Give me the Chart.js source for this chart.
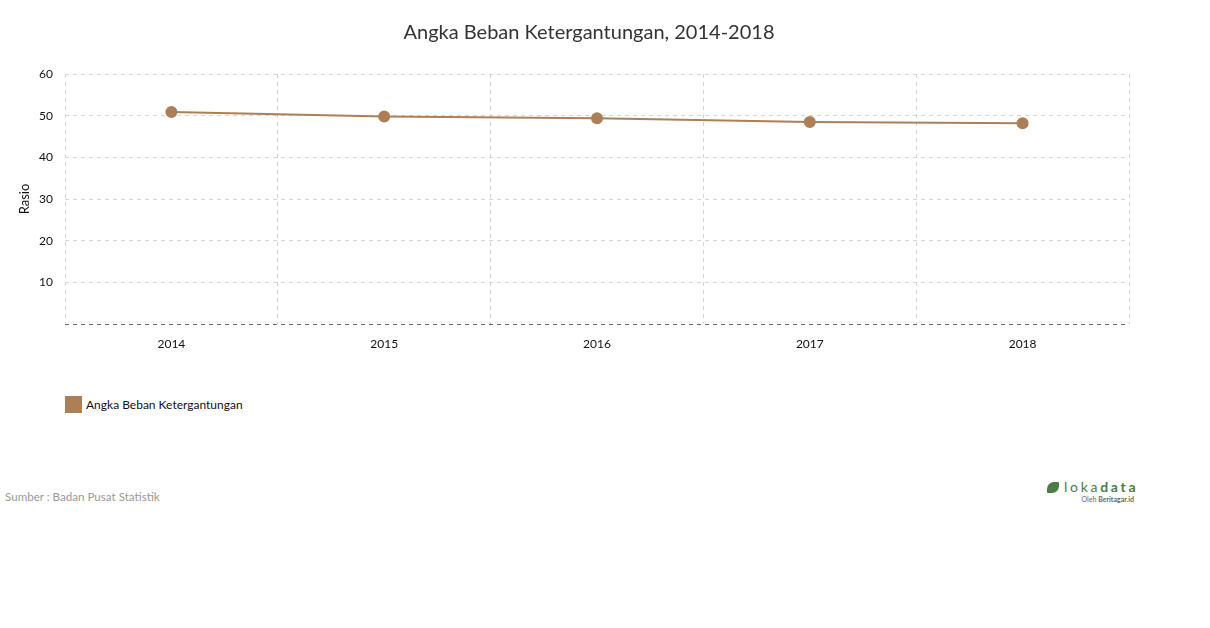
<!DOCTYPE html>
<html>
<head>
<meta charset="utf-8">
<script src="https://cdn.jsdelivr.net/npm/chart.js@4/dist/chart.umd.min.js"></script>
<style>
  body { margin: 0; background: #fff; font-family: Lato, sans-serif; }
  #wrap { position: relative; width: 1210px; height: 628px; }
  #box { position: absolute; left: 0; top: 0; width: 1210px; height: 370px; }
  #legend { position: absolute; left: 65px; top: 396px; font-size: 12px; color: #111; display: flex; align-items: center; }
  #legend span.sw { display: inline-block; width: 17px; height: 17px; margin-right: 4px; }
  #source { position: absolute; left: 5px; top: 490px; font-size: 11.6px; color: #999; }
  #logo { position: absolute; left: 1047px; top: 479px; width: 90px; }
  #logo .name { font-size: 14px; color: #4d7a46; letter-spacing: 2.7px; line-height: 16px; white-space: nowrap; }
  #logo .name b { font-weight: 700; }
  #logo .by { font-size: 7px; color: #666; text-align: right; padding-right: 3px; line-height: 8px; white-space: nowrap; }
  #logo .leaf { display: inline-block; width: 12px; height: 11px; background: #4d7a46; border-radius: 7px 1px 7px 1px; margin-right: 5px; vertical-align: -1px; }
</style>
</head>
<body>
<div id="wrap">
  <div id="box"><canvas id="chart"></canvas></div>
  <div id="legend"></div>
  <div id="source">Sumber : Badan Pusat Statistik</div>
  <div id="logo">
    <div class="name"><span class="leaf"></span>loka<b>data</b></div>
    <div class="by">Oleh <b>Beritagar.id</b></div>
  </div>
</div>
<script>
// data
const years = ['2014', '2015', '2016', '2017', '2018'];
const rasio = [50.9, 49.8, 49.4, 48.5, 48.2];
const seriesName = 'Angka Beban Ketergantungan';
const yTicks = [0, 10, 20, 30, 40, 50, 60];

const brown = '#ad7f56';
const gridGrey = '#d4d4d4';

document.getElementById('legend').innerHTML =
    '<span class="sw" style="background:' + brown + '"></span>' + seriesName;

const ctx = document.getElementById('chart').getContext('2d');

new Chart(ctx, {
    type: 'line',
    data: {
        labels: years,
        datasets: [{
            label: seriesName,
            data: rasio,
            borderColor: brown,
            backgroundColor: brown,
            borderWidth: 2,
            pointRadius: 5,
            pointHoverRadius: 5,
            tension: 0,
            fill: false
        }]
    },
    options: {
        responsive: true,
        maintainAspectRatio: false,
        animation: false,
        layout: { padding: { left: 0, right: 32, top: 0, bottom: 0 } },
        plugins: {
            legend: { display: false },
            tooltip: { enabled: false },
            title: {
                display: true,
                text: 'Angka Beban Ketergantungan, 2014-2018',
                color: '#333',
                font: { family: 'Lato', size: 20, weight: 'normal' },
                padding: { top: 21, bottom: 29 }
            }
        },
        scales: {
            x: {
                offset: true,
                grid: {
                    offset: true,
                    color: gridGrey,
                    drawTicks: false
                },
                border: { display: false, dash: [4, 4] },
                ticks: {
                    color: '#111',
                    font: { family: 'Lato', size: 12 },
                    padding: 13
                },
                afterFit: s => { s.height = 46; }
            },
            y: {
                min: 0,
                max: 60,
                afterBuildTicks: s => { s.ticks = yTicks.map(v => ({ value: v })); },
                grid: {
                    color: c => (c.tick && c.tick.value === 0) ? '#666' : gridGrey,
                    drawTicks: false
                },
                border: { display: false, dash: [4, 4] },
                ticks: {
                    color: '#111',
                    font: { family: 'Lato', size: 12 },
                    padding: 12,
                    callback: v => v === 0 ? '' : v
                },
                title: {
                    display: true,
                    text: 'Rasio',
                    color: '#111',
                    font: { family: 'Lato', size: 13 },
                    padding: { top: 17, bottom: 0 }
                },
                afterFit: s => { s.width = 65; }
            },
            // empty right axis, keeps the title centred over the whole figure
            yRight: {
                position: 'right',
                min: 0,
                max: 60,
                grid: { display: false },
                border: { display: false },
                ticks: { display: false },
                afterFit: s => { s.width = 49; }
            }
        }
    }
});
</script>
</body>
</html>
